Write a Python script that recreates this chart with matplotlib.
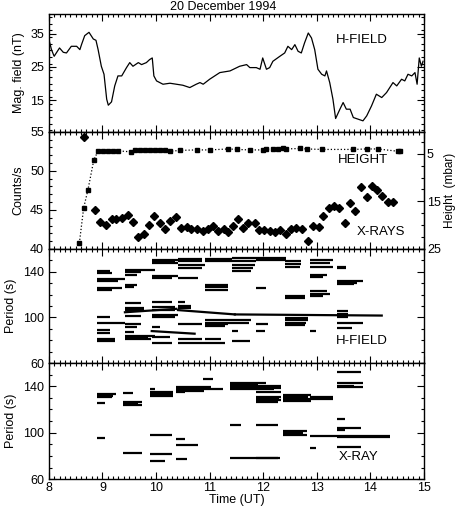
import matplotlib.pyplot as plt
from matplotlib.ticker import MultipleLocator, FixedLocator

plt.rcParams['font.family'] = ['Liberation Sans', 'DejaVu Sans']
plt.rcParams['font.size'] = 9

# panel 1: H-field magnetometer trace (time in UT hours, nT)
mag_t = [8.0, 8.05, 8.1, 8.14, 8.2, 8.27, 8.33, 8.42, 8.52, 8.58, 8.61, 8.67, 8.75, 8.83, 8.88,
         8.92, 8.98, 9.03, 9.08, 9.11, 9.17, 9.23, 9.29, 9.36, 9.45, 9.51, 9.57, 9.67, 9.73,
         9.82, 9.88, 9.93, 9.96, 10.01, 10.13, 10.26, 10.38, 10.5, 10.63, 10.75, 10.82, 10.88,
         11.0, 11.19, 11.38, 11.56, 11.69, 11.75, 11.87, 11.94, 11.99, 12.06, 12.12, 12.18,
         12.31, 12.4, 12.46, 12.53, 12.59, 12.65, 12.71, 12.77, 12.84, 12.9, 12.96, 13.02,
         13.09, 13.15, 13.18, 13.24, 13.3, 13.35, 13.43, 13.49, 13.55, 13.62, 13.68, 13.77,
         13.86, 13.93, 14.02, 14.11, 14.21, 14.3, 14.42, 14.49, 14.58, 14.64, 14.7, 14.77,
         14.83, 14.87, 14.91, 14.95, 14.98]
mag_nt = [33.4, 30.2, 28.2, 29.2, 30.7, 29.4, 29.2, 31.2, 31.2, 30.2, 31.7, 34.4, 35.4, 33.4, 33.0,
          30.2, 25.2, 22.8, 15.3, 13.5, 14.5, 19.3, 22.3, 22.3, 24.8, 26.3, 25.2, 26.3, 25.7,
          26.3, 27.2, 27.7, 22.3, 20.8, 19.8, 20.1, 19.8, 19.5, 18.8, 19.8, 20.3, 19.8,
          21.3, 23.3, 23.8, 25.2, 25.7, 24.8, 24.8, 24.3, 27.7, 24.3, 24.8, 26.7,
          28.2, 29.2, 31.2, 30.2, 31.7, 29.7, 29.2, 32.2, 35.2, 33.7, 30.2, 24.3,
          22.8, 22.3, 23.8, 20.3, 15.3, 9.5, 12.3, 14.3, 12.3, 12.3, 9.8, 9.3,
          8.8, 10.3, 13.3, 16.8, 15.8, 17.3, 20.3, 19.3, 21.3, 20.8, 22.8, 22.3,
          23.3, 19.8, 27.7, 25.2, 26.7]

# panel 2: balloon height (mbar) and X-ray counts
height_t = [8.57, 8.65, 8.73, 8.84, 8.92, 9.01, 9.11, 9.2, 9.29, 9.53, 9.6, 9.7, 9.79, 9.88,
            9.98, 10.07, 10.16, 10.26, 10.44, 10.76, 11.0, 11.35, 11.51, 11.75, 12.0, 12.06,
            12.18, 12.28, 12.37, 12.43, 12.68, 12.81, 13.09, 13.68, 13.93, 14.14, 14.52, 14.55]
height_mbar = [23.8, 16.4, 12.6, 6.3, 4.4, 4.4, 4.4, 4.4, 4.4, 4.6, 4.3, 4.3, 4.3, 4.3,
               4.3, 4.3, 4.3, 4.5, 4.3, 4.2, 4.2, 4.0, 4.1, 4.2, 4.2, 4.1,
               4.0, 4.0, 3.9, 4.0, 3.9, 4.0, 4.1, 4.1, 4.0, 4.0, 4.5, 4.5]
xray_t = [8.65, 8.86, 8.95, 9.06, 9.17, 9.26, 9.36, 9.48, 9.57, 9.67, 9.77, 9.87, 9.96,
          10.07, 10.17, 10.27, 10.37, 10.47, 10.57, 10.66, 10.76, 10.87, 10.97, 11.06,
          11.16, 11.26, 11.35, 11.44, 11.52, 11.62, 11.72, 11.84, 11.93, 12.02, 12.12,
          12.21, 12.31, 12.43, 12.52, 12.61, 12.72, 12.83, 12.93, 13.04, 13.12, 13.22,
          13.32, 13.41, 13.52, 13.62, 13.72, 13.82, 13.93, 14.02, 14.13, 14.22, 14.32, 14.42]
xray_cts = [54.4, 45.0, 43.5, 43.1, 43.8, 43.8, 43.9, 44.4, 43.5, 41.5, 41.9, 43.1, 44.2,
            43.3, 42.5, 43.6, 44.1, 42.7, 42.8, 42.5, 42.6, 42.3, 42.6, 43.0,
            42.3, 42.6, 42.2, 43.0, 43.8, 42.7, 43.3, 43.3, 42.4, 42.4, 42.3,
            42.2, 42.4, 41.9, 42.6, 42.7, 42.6, 41.0, 43.0, 42.8, 44.2, 45.2,
            45.5, 45.2, 43.3, 45.9, 44.9, 47.9, 46.7, 48.0, 47.5, 46.8, 46.0, 46.0]

# panel 3: H-field wave periods (start UT, end UT, period s)
hf_t0 = [8.89, 8.89, 8.89, 8.89, 8.89, 8.89, 8.89, 8.89, 8.89, 8.89, 8.89, 8.89,
         9.42, 9.42, 9.42, 9.42, 9.42, 9.42, 9.42, 9.42, 9.42, 9.42, 9.42, 9.42, 9.42, 9.42, 9.42,
         9.92, 9.92, 9.92, 9.92, 9.92, 9.92, 9.92, 9.92, 9.92, 9.92, 9.92, 9.92, 9.92,
         10.41, 10.41, 10.41, 10.41, 10.41, 10.41, 10.41, 10.41, 10.41, 10.41, 10.41,
         10.91, 10.91, 10.91, 10.91, 10.91, 10.91, 10.91, 10.91, 10.91, 10.91, 10.91,
         11.41, 11.41, 11.41, 11.41, 11.41, 11.41, 11.41, 11.41, 11.41,
         11.87, 11.87, 11.87, 11.87, 11.87,
         12.40, 12.40, 12.40, 12.40, 12.40, 12.40, 12.40, 12.40, 12.40,
         12.87, 12.87, 12.87, 12.87, 12.87, 12.87, 12.87, 12.87, 12.87,
         13.37, 13.37, 13.37, 13.37, 13.37, 13.37, 13.37, 13.37, 13.37, 13.37]
hf_t1 = [9.14, 9.17, 9.42, 9.30, 9.36, 9.17, 9.14, 9.42, 9.14, 9.14, 9.23, 9.23,
         9.98, 9.72, 9.65, 9.65, 9.59, 9.72, 9.78, 9.78, 9.72, 9.72, 9.65, 9.59, 9.98, 9.85, 9.90,
         10.41, 10.35, 10.41, 10.41, 10.29, 10.29, 10.35, 10.35, 10.41, 10.35, 10.07, 10.26, 10.29,
         10.85, 10.85, 10.91, 10.85, 10.79, 10.54, 10.66, 10.66, 10.85, 10.85, 10.91,
         11.41, 11.41, 11.35, 11.35, 11.35, 11.41, 11.41, 11.35, 11.28, 11.22, 11.28,
         11.87, 11.87, 11.84, 11.80, 11.78, 11.78, 11.73, 11.53, 11.75,
         12.43, 12.43, 12.06, 12.09, 12.03,
         12.71, 12.71, 12.68, 12.77, 12.77, 12.84, 12.84, 12.80, 12.77,
         13.30, 13.24, 13.30, 13.18, 13.12, 13.18, 13.24, 13.12, 12.99,
         13.55, 13.55, 13.86, 13.75, 13.70, 13.58, 13.58, 13.58, 13.86, 13.65]
hf_p = [140.9, 138.8, 133.6, 131.6, 125.8, 123.8, 100.6, 95.4, 89.0, 86.7, 81.4, 79.4,
        141.7, 139.6, 137.4, 128.1, 126.4, 112.8, 108.4, 106.7, 101.2, 94.0, 91.7, 87.5, 83.8, 82.3, 80.9,
        150.4, 148.8, 147.5, 135.9, 134.5, 113.2, 108.9, 106.7, 101.7, 100.0, 91.7, 82.6, 77.4,
        151.3, 149.6, 146.0, 143.2, 134.5, 113.5, 109.6, 108.2, 94.5, 80.9, 77.4,
        151.3, 149.6, 128.0, 126.2, 124.3, 97.4, 95.5, 93.8, 92.4, 81.2, 77.7,
        151.9, 149.0, 146.0, 143.0, 140.3, 97.4, 95.4, 88.0, 79.4,
        151.9, 150.4, 125.5, 94.5, 88.4,
        149.0, 146.8, 144.6, 118.5, 117.1, 99.7, 97.5, 95.5, 93.3,
        150.4, 147.5, 144.6, 137.4, 135.4, 122.9, 120.6, 118.5, 88.4,
        144.6, 143.2, 132.2, 130.5, 129.3, 105.5, 103.4, 100.3, 95.4, 90.4]
# drifting H-field periods (start UT, end UT, start period, end period)
hf_drift_t0 = [9.42, 10.41, 11.47, 9.92]
hf_drift_t1 = [10.38, 11.47, 14.21, 10.72]
hf_drift_p0 = [104.5, 106.4, 102.6, 88.0]
hf_drift_p1 = [107.5, 102.6, 101.6, 85.7]

# panel 4: X-ray periods
xr_t0 = [8.89, 8.89, 8.89, 8.89, 8.89,
         9.39, 9.39, 9.39, 9.39, 9.39,
         9.88, 9.88, 9.88, 9.88, 9.88, 9.88, 9.88,
         10.38, 10.38, 10.38, 10.38, 10.38, 10.38, 10.38,
         10.88,
         11.38, 11.38, 11.38, 11.38, 11.38, 11.38, 11.38,
         11.87, 11.87, 11.87, 11.87, 11.87, 11.87, 11.87, 11.87,
         12.37, 12.37, 12.37, 12.37, 12.37, 12.37, 12.37,
         12.87, 12.87, 12.87,
         13.37, 13.37, 13.37, 13.37, 13.37, 13.37, 13.37, 13.37, 13.37]
xr_t1 = [9.26, 9.20, 9.17, 9.04, 9.04,
         9.57, 9.73, 9.66, 9.73, 9.73,
         9.98, 10.32, 10.32, 10.32, 10.29, 10.29, 10.16,
         10.54, 11.03, 11.25, 10.90, 10.54, 10.79, 10.57,
         11.07,
         12.06, 11.90, 12.34, 12.34, 12.20, 11.59, 12.28,
         12.34, 12.34, 12.34, 12.30, 12.34, 12.28, 12.28, 12.31,
         12.90, 12.84, 13.30, 12.90, 12.81, 12.75, 12.81,
         12.99, 14.36, 13.30,
         13.83, 13.86, 13.70, 13.86, 13.52, 13.83, 13.52, 13.83, 14.36]
xr_p = [133.0, 131.7, 130.3, 125.5, 95.3,
        134.3, 126.1, 124.9, 123.7, 82.2,
        137.2, 135.2, 133.5, 131.9, 97.7, 81.5, 75.7,
        134.9, 139.2, 137.8, 136.3, 94.5, 89.5, 76.9,
        146.6,
        142.8, 141.3, 140.2, 138.5, 137.2, 107.0, 78.6,
        139.3, 134.9, 131.0, 129.3, 127.8, 126.6, 106.2, 77.8,
        132.5, 130.8, 129.3, 127.5, 101.1, 99.6, 98.2,
        86.5, 96.8, 130.5,
        151.9, 142.8, 140.5, 139.3, 112.0, 104.1, 102.6, 87.4, 96.2]

fig = plt.figure(figsize=(4.56, 5.07), dpi=100)
left, width = 0.107, 0.823
ax1 = fig.add_axes([left, 0.740, width, 0.233])
ax2 = fig.add_axes([left, 0.509, width, 0.231])
ax3 = fig.add_axes([left, 0.284, width, 0.225])
ax4 = fig.add_axes([left, 0.055, width, 0.229])
axes = [ax1, ax2, ax3, ax4]

for ax in axes:
    ax.set_xlim(8, 15)
    ax.xaxis.set_major_locator(MultipleLocator(1))
    ax.xaxis.set_minor_locator(MultipleLocator(0.1))
    ax.tick_params(which='both', direction='in', top=True, right=True, labelsize=9, width=0.8)
    ax.tick_params(which='major', length=5)
    ax.tick_params(which='minor', length=2.5)
    ax.tick_params(axis='x', pad=2)
    for s in ax.spines.values():
        s.set_linewidth(1.0)
    if ax is not ax4:
        ax.tick_params(labelbottom=False)

ax1.plot(mag_t, mag_nt, color='black', lw=0.9)
ax1.set_ylim(5.5, 41)
ax1.yaxis.set_major_locator(FixedLocator([15, 25, 35]))
ax1.yaxis.set_minor_locator(MultipleLocator(2))
ax1.set_ylabel('Mag. field (nT)')
ax1.text(13.35, 32.3, 'H-FIELD', fontsize=9.5)

ax2.plot(xray_t, xray_cts, 'D', color='black', ms=3.8, ls='none')
ax2.set_ylim(40, 55)
ax2.yaxis.set_major_locator(MultipleLocator(5))
ax2.yaxis.set_minor_locator(MultipleLocator(1))
ax2.set_ylabel('Counts/s')
ax2.tick_params(which='both', right=False)
ax2r = ax2.twinx()
ax2r.plot(height_t, height_mbar, ls=':', color='black', lw=0.9, marker='s', ms=2.2)
ax2r.set_ylim(25, 0.4)
ax2r.yaxis.set_major_locator(FixedLocator([5, 15, 25]))
ax2r.yaxis.set_minor_locator(MultipleLocator(2.5))
ax2r.tick_params(which='both', direction='in', labelsize=9, width=0.8, pad=2)
ax2r.tick_params(which='major', length=5)
ax2r.tick_params(which='minor', length=2.5)
ax2r.set_ylabel('Height  (mbar)', fontsize=8.5, rotation=90, va='center')
ax2r.yaxis.set_label_coords(1.068, 0.5)
ax2.text(13.4, 51.0, 'HEIGHT', fontsize=9.5)
ax2.text(13.75, 41.8, 'X-RAYS', fontsize=9.5)

ax3.hlines(hf_p, hf_t0, hf_t1, color='black', lw=1.6)
for a, b, c, d in zip(hf_drift_t0, hf_drift_t1, hf_drift_p0, hf_drift_p1):
    ax3.plot([a, b], [c, d], color='black', lw=1.6)
ax3.text(13.35, 76.5, 'H-FIELD', fontsize=9.5)

ax4.hlines(xr_p, xr_t0, xr_t1, color='black', lw=1.6)
ax4.text(13.4, 76.5, 'X-RAY', fontsize=9.5)

for ax in (ax3, ax4):
    ax.set_ylim(60, 160)
    ax.yaxis.set_major_locator(FixedLocator([60, 100, 140]))
    ax.yaxis.set_minor_locator(MultipleLocator(10))
    ax.set_ylabel('Period (s)')

ax4.set_xlabel('Time (UT)', labelpad=0)
fig.text(0.49, 0.999, '20 December 1994', ha='center', va='top', fontsize=9)

fig.savefig('out.png', dpi=100)
